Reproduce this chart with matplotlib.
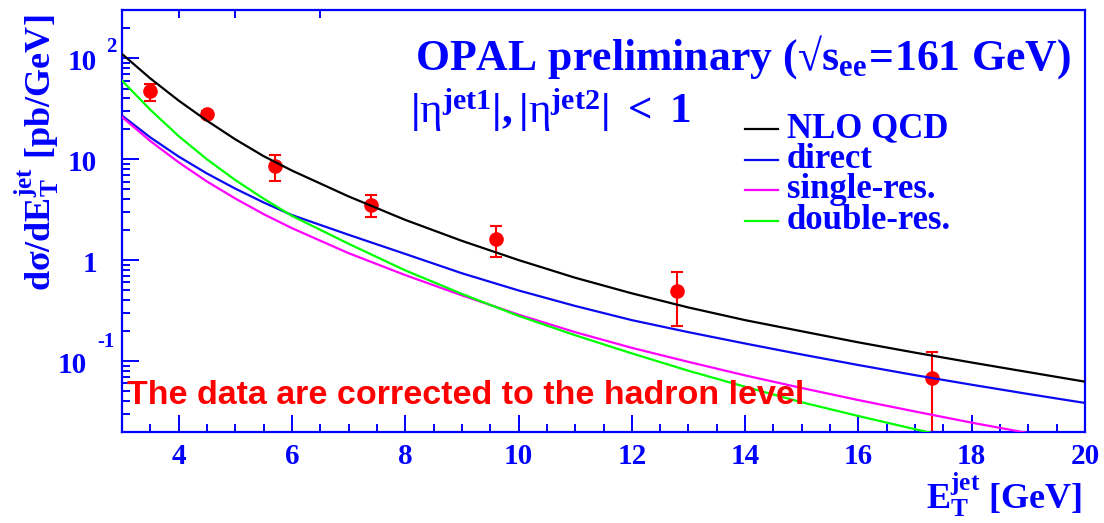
import matplotlib
matplotlib.use("Agg")
import matplotlib.pyplot as plt
from matplotlib.lines import Line2D
from matplotlib.transforms import blended_transform_factory
from matplotlib.ticker import FixedLocator, NullFormatter

plt.rcParams["font.family"] = "Liberation Serif"
plt.rcParams["font.weight"] = "normal"
plt.rcParams["mathtext.fontset"] = "custom"
plt.rcParams["mathtext.rm"] = "Liberation Serif:bold"
plt.rcParams["mathtext.bf"] = "Liberation Serif:bold"
plt.rcParams["mathtext.it"] = "Liberation Serif:italic:bold"
plt.rcParams["mathtext.sf"] = "Liberation Serif:normal"

# ---- theory curves: dsigma/dE_T^jet [pb/GeV] vs E_T^jet [GeV] ----
et_grid = [3.0, 3.5, 4.0, 4.5, 5.0, 5.5, 6.0, 7.0, 8.0, 9.0, 10.0,
           11.0, 12.0, 13.0, 14.0, 15.0, 16.0, 17.0, 18.0, 19.0, 20.0]
nlo_qcd = [110, 63, 38, 24, 15.7, 10.7, 7.7, 4.27, 2.5, 1.55, 1.0,
           0.668, 0.468, 0.339, 0.254, 0.197, 0.153, 0.121, 0.0966, 0.0776, 0.0624]
direct = [27, 16.4, 10.6, 7.2, 5.1, 3.72, 2.79, 1.78, 1.15, 0.74, 0.50,
          0.351, 0.254, 0.193, 0.149, 0.116, 0.0912, 0.0724, 0.0582, 0.0471, 0.0384]
et_single = et_grid[:20]
single_res = [26.1, 15.1, 9.3, 6.0, 4.07, 2.85, 2.07, 1.17, 0.71, 0.447, 0.288,
              0.193, 0.135, 0.098, 0.072, 0.054, 0.041, 0.0316, 0.0245, 0.0193]
et_double = et_grid[:19]
double_res = [60, 30.8, 16.9, 9.95, 6.2, 4.06, 2.74, 1.45, 0.79, 0.462, 0.28,
              0.18, 0.119, 0.080, 0.0556, 0.039, 0.0285, 0.0211, 0.0158]

# ---- OPAL data (hadron level) ----
et_data = [3.5, 4.5, 5.7, 7.4, 9.6, 12.8, 17.3]
xsec_data = [47, 27.7, 8.5, 3.55, 1.63, 0.49, 0.068]
xsec_err = [9, 2.0, 2.4, 0.9, 0.55, 0.27, 0.055]

curve_names = ["NLO QCD", "direct", "single-res.", "double-res."]
curve_colors = ["black", "#0a0af0", "#ff00ff", "#00ff00"]

BLUE = "#0000ff"
W, H = 1104, 523

fig = plt.figure(figsize=(W / 100, H / 100), dpi=100)
ax = fig.add_axes([122 / W, 1 - 432 / H, (1085 - 122) / W, (432 - 10) / H])

ax.errorbar(et_data, xsec_data, yerr=xsec_err, fmt="o", color="red",
            markersize=9.5, elinewidth=1.5, capsize=4, capthick=1.5, zorder=2)

for xs, ys, c in zip([et_grid, et_grid, et_single, et_double],
                     [nlo_qcd, direct, single_res, double_res], curve_colors):
    ax.plot(xs, ys, color=c, lw=1.6, zorder=3)

ax.set_yscale("log")
ax.set_xlim(3, 20)
ax.set_ylim(0.0198, 300)

for s in ax.spines.values():
    s.set_color(BLUE)
    s.set_linewidth(1.6)

# x ticks
ax.set_xticks([4, 6, 8, 10, 12, 14, 16, 18, 20])
ax.set_xticks([3.5 + 0.5 * i for i in range(34) if (3.5 + 0.5 * i) % 2 != 0], minor=True)
ax.tick_params(axis="x", which="major", direction="in", length=12, width=1.4,
               color=BLUE, labelcolor=BLUE, labelsize=21, pad=8)
ax.tick_params(axis="x", which="minor", direction="in", length=6, width=1.4, color=BLUE)
for lab in ax.get_xticklabels():
    lab.set_fontweight("bold")

# y ticks (labels drawn separately)
ax.yaxis.set_major_locator(FixedLocator([0.1, 1, 10, 100]))
minors = [m * 10.0 ** e for e in range(-2, 3) for m in range(2, 10)]
ax.yaxis.set_minor_locator(FixedLocator(minors))
ax.yaxis.set_major_formatter(NullFormatter())
ax.yaxis.set_minor_formatter(NullFormatter())
ax.tick_params(axis="y", which="major", direction="in", length=12, width=1.4, color=BLUE)
ax.tick_params(axis="y", which="minor", direction="in", length=6, width=1.4, color=BLUE)

# short ticks along the top edge
sec = ax.secondary_xaxis("top")
sec.set_xticks([4, 5, 6.5])
sec.tick_params(direction="in", length=6, width=1.4, color=BLUE, labeltop=False)
sec.spines["top"].set_visible(False)

bt = blended_transform_factory(fig.transFigure, ax.transData)
def fx(px):
    return px / W
def fy(py):
    return 1 - py / H

tsize = 21
lab_kw = dict(transform=bt, va="center", color=BLUE, weight="bold")
shift = 10 ** -0.04
ax.text(fx(97), 100 * shift, "10", ha="right", fontsize=tsize, **lab_kw)
ax.text(fx(106), 100 * 10 ** 0.11, "2", ha="left", fontsize=15, **lab_kw)
ax.text(fx(97), 10 * shift, "10", ha="right", fontsize=tsize, **lab_kw)
ax.text(fx(97), 1 * shift, "1", ha="right", fontsize=tsize, **lab_kw)
ax.text(fx(87), 0.1 * shift, "10", ha="right", fontsize=tsize, **lab_kw)
ax.text(fx(97), 0.1 * 10 ** 0.19, "-1", ha="left", fontsize=15, **lab_kw)

# axis titles
fig.text(fx(37), fy(153), r"$\mathbf{d\sigma/dE_{T}^{jet}\ [pb/GeV]}$", rotation=90,
         ha="center", va="center", color=BLUE, fontsize=26)
fig.text(fx(1082), fy(495), r"$\mathbf{E_{T}^{jet}\ [GeV]}$",
         ha="right", va="center", color=BLUE, fontsize=26)

# header
fig.text(fx(415), fy(57), r"$\mathbf{OPAL\ preliminary\ (√s_{ee}\!=\!161\ GeV)}$",
         ha="left", va="center", color=BLUE, fontsize=31.5)
fig.text(fx(410), fy(110),
         r"$|\mathsf{η}^{\mathbf{jet1}}|,|\mathsf{η}^{\mathbf{jet2}}|\ \mathbf{<}\ \mathbf{1}$",
         ha="left", va="center", color=BLUE, fontsize=31)

# legend
for i, (name, c) in enumerate(zip(curve_names, curve_colors)):
    yy = fy(129 + 30.5 * i)
    fig.add_artist(Line2D([fx(745), fx(778)], [yy, yy], color=c, lw=1.6,
                          transform=fig.transFigure))
    fig.text(fx(787), yy, name, ha="left", va="center", color=BLUE,
             fontsize=25, weight="bold")

fig.text(fx(127), fy(396), "The data are corrected to the hadron level",
         ha="left", va="center", color="red", fontsize=24.5,
         family="Liberation Sans", weight="bold")

fig.savefig("out.png", dpi=100)
